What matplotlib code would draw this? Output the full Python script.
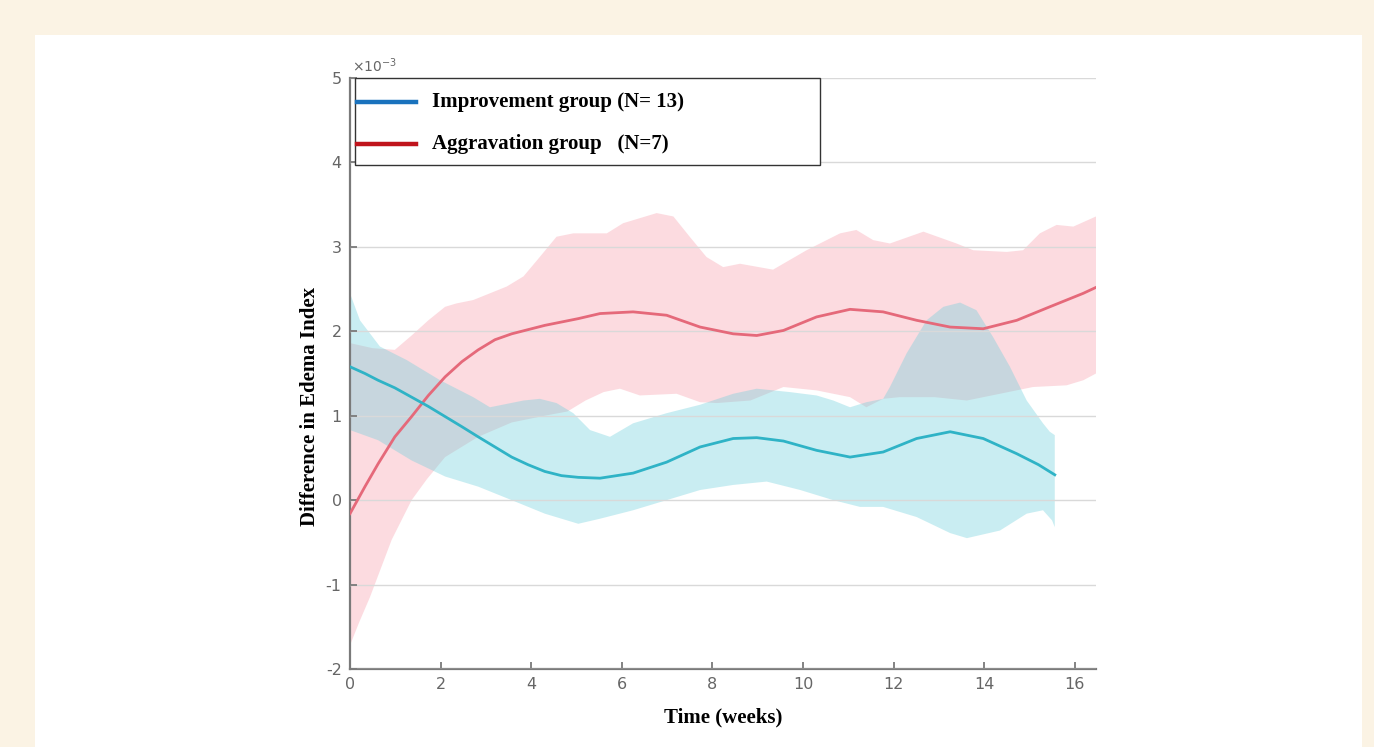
import matplotlib
matplotlib.use("Agg")
import matplotlib.pyplot as plt
from matplotlib.patches import Rectangle
from matplotlib.lines import Line2D
import numpy as np

# ---------------- data (x10^-3) ----------------
imp_mean_w = [0, 0.33, 0.62, 0.99, 1.36, 1.73, 2.10, 2.47, 2.83, 3.2, 3.57, 3.93, 4.3, 4.67,
              5.04, 5.52, 6.25, 6.99, 7.73, 8.46, 8.98, 9.57, 10.3, 11.04, 11.77, 12.51,
              13.25, 13.98, 14.72, 15.2, 15.56]
imp_mean = [1.58, 1.50, 1.42, 1.33, 1.22, 1.11, 0.99, 0.87, 0.75, 0.63, 0.51, 0.42, 0.34, 0.29,
            0.27, 0.26, 0.32, 0.45, 0.63, 0.73, 0.74, 0.70, 0.59, 0.51, 0.57, 0.73,
            0.81, 0.73, 0.55, 0.42, 0.30]

imp_up_w = [0, 0.22, 0.66, 0.88, 1.25, 1.99, 2.72, 3.09, 3.83, 4.19, 4.56, 4.93, 5.3, 5.74,
            6.25, 6.99, 7.73, 8.46, 8.98, 9.71, 10.3, 10.67, 11.04, 11.4, 11.77, 11.92, 12.29,
            12.73, 13.1, 13.47, 13.83, 14.2, 14.57, 14.94, 15.3, 15.45, 15.56]
imp_up = [2.45, 2.13, 1.82, 1.76, 1.66, 1.42, 1.22, 1.10, 1.18, 1.20, 1.15, 1.03, 0.83, 0.75,
          0.91, 1.03, 1.13, 1.26, 1.32, 1.28, 1.24, 1.18, 1.10, 1.16, 1.20, 1.34, 1.74,
          2.13, 2.29, 2.34, 2.25, 1.93, 1.58, 1.18, 0.91, 0.81, 0.77]

imp_lo_w = [0, 0.62, 1.36, 2.1, 2.83, 3.57, 4.3, 5.04, 5.52, 6.25, 6.99, 7.73, 8.46, 9.2,
            9.94, 10.67, 11.26, 11.77, 12.51, 13.25, 13.62, 14.35, 14.94, 15.3, 15.5, 15.56]
imp_lo = [0.83, 0.71, 0.47, 0.28, 0.16, 0.00, -0.16, -0.28, -0.22, -0.12, 0.00, 0.12, 0.18, 0.22,
          0.12, 0.00, -0.08, -0.08, -0.20, -0.39, -0.45, -0.36, -0.16, -0.12, -0.24, -0.32]

agg_mean_w = [0, 0.33, 0.62, 0.99, 1.36, 1.73, 2.10, 2.47, 2.83, 3.2, 3.57, 4.3, 5.04, 5.52,
              6.25, 6.99, 7.73, 8.46, 8.98, 9.57, 10.3, 11.04, 11.77, 12.51, 13.25, 13.98,
              14.72, 15.45, 16.19, 16.47]
agg_mean = [-0.16, 0.16, 0.43, 0.75, 0.99, 1.24, 1.46, 1.64, 1.78, 1.90, 1.97, 2.07, 2.15, 2.21,
            2.23, 2.19, 2.05, 1.97, 1.95, 2.01, 2.17, 2.26, 2.23, 2.13, 2.05, 2.03,
            2.13, 2.29, 2.45, 2.52]

agg_up_w = [0, 0.5, 0.99, 1.36, 1.73, 2.1, 2.35, 2.72, 3.09, 3.46, 3.83, 4.19, 4.56, 4.93, 5.67,
            6.03, 6.77, 7.14, 7.5, 7.87, 8.24, 8.61, 9.34, 10.08, 10.82, 11.18, 11.55, 11.92,
            12.66, 13.39, 13.76, 14.5, 14.86, 15.23, 15.6, 15.97, 16.47]
agg_up = [1.86, 1.80, 1.78, 1.95, 2.13, 2.29, 2.33, 2.37, 2.45, 2.53, 2.65, 2.88, 3.12, 3.16, 3.16,
          3.28, 3.40, 3.36, 3.12, 2.88, 2.76, 2.80, 2.73, 2.96, 3.16, 3.20, 3.08, 3.04,
          3.18, 3.04, 2.96, 2.94, 2.96, 3.16, 3.26, 3.24, 3.36]

agg_lo_w = [0, 0.2, 0.44, 0.92, 1.36, 1.7, 2.1, 2.83, 3.57, 4.3, 4.8, 5.2, 5.6, 5.96, 6.4, 7.21,
            7.73, 8.1, 8.84, 9.57, 10.3, 11.04, 11.4, 11.77, 12.14, 12.9, 13.62, 14.35, 15.08,
            15.82, 16.19, 16.47]
agg_lo = [-1.72, -1.45, -1.15, -0.47, 0.00, 0.25, 0.51, 0.75, 0.92, 1.00, 1.05, 1.18, 1.28, 1.32,
          1.24, 1.26, 1.16, 1.15, 1.18, 1.34, 1.30, 1.22, 1.10, 1.20, 1.22, 1.22, 1.18, 1.26,
          1.34, 1.36, 1.42, 1.50]

x_ticks = [0, 2, 4, 6, 8, 10, 12, 14, 16]
y_ticks = [-2, -1, 0, 1, 2, 3, 4, 5]
legend_labels = ["Improvement group (N= 13)", "Aggravation group   (N=7)"]

# ---------------- figure ----------------
W, H = 1374, 747
fig = plt.figure(figsize=(W / 100, H / 100), dpi=100)
fig.patch.set_facecolor("#fbf3e4")
fig.add_artist(Rectangle((35 / W, 0), (1362 - 35) / W, (H - 35) / H,
                         transform=fig.transFigure, facecolor="white",
                         edgecolor="none", zorder=0))

ax = fig.add_axes([350 / W, (H - 669) / H, (1096 - 350) / W, (669 - 78) / H])
ax.set_facecolor("none")
ax.set_xlim(0, 16.47)
ax.set_ylim(-2, 5)

pink = (0.98, 0.72, 0.76)
cyan = (0.42, 0.81, 0.86)
ax.fill(np.concatenate([agg_up_w, agg_lo_w[::-1]]), np.concatenate([agg_up, agg_lo[::-1]]),
        color=pink, alpha=0.5, lw=0, zorder=1)
ax.fill(np.concatenate([imp_up_w, imp_lo_w[::-1]]), np.concatenate([imp_up, imp_lo[::-1]]),
        color=cyan, alpha=0.36, lw=0, zorder=2)
ax.plot(agg_mean_w, agg_mean, color="#e5697a", lw=2.0, zorder=4, solid_joinstyle="round")
ax.plot(imp_mean_w, imp_mean, color="#2fb3c6", lw=2.0, zorder=4, solid_joinstyle="round")

ax.set_xticks(x_ticks)
ax.set_yticks(y_ticks)
ax.set_xticklabels([str(t) for t in x_ticks])
ax.set_yticklabels([str(t) for t in y_ticks])
ax.yaxis.grid(True, color="#d9d9d9", lw=1.0, zorder=3)
ax.set_axisbelow(False)
for s in ["top", "right"]:
    ax.spines[s].set_visible(False)
for s in ["left", "bottom"]:
    ax.spines[s].set_color("#7a7a7a")
    ax.spines[s].set_linewidth(1.6)
ax.tick_params(direction="in", length=5, width=1.3, color="#7a7a7a",
               labelcolor="#666666", labelsize=11.5, pad=6)

ax.text(0.003, 1.005, r"$\times10^{-3}$", transform=ax.transAxes, fontsize=10,
        color="#666666", ha="left", va="bottom")

ax.set_xlabel("Time (weeks)", family="Liberation Serif", fontweight="bold",
              fontsize=15, labelpad=11)
ax.set_ylabel("Difference in Edema Index", family="Liberation Serif",
              fontweight="bold", fontsize=15)
ax.yaxis.set_label_coords(-0.040, 0.445)

# legend box
fig.add_artist(Rectangle((355 / W, (H - 165) / H), (820 - 355) / W, (165 - 78) / H,
                         transform=fig.transFigure, facecolor="white",
                         edgecolor="#333333", lw=1.0, zorder=10))
leg_cols = ["#1a72bd", "#c0141c"]
leg_y = [102, 144]
for lab, col, yy in zip(legend_labels, leg_cols, leg_y):
    fig.add_artist(Line2D([357 / W, 416 / W], [(H - yy) / H] * 2, color=col, lw=3.2,
                          transform=fig.transFigure, zorder=11))
    fig.text(432 / W, (H - yy) / H, lab, family="Liberation Serif", fontweight="bold",
             fontsize=15, va="center", ha="left", zorder=12)

fig.savefig("out.png", dpi=100, facecolor=fig.get_facecolor())
